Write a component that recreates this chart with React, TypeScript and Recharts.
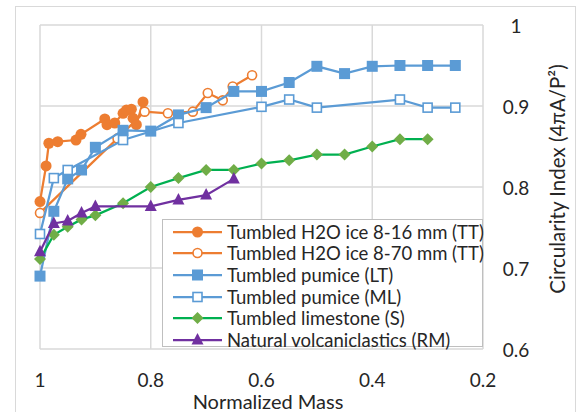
import React from "react";
import { ScatterChart, Scatter, XAxis, YAxis, CartesianGrid } from "recharts";

// normalized mass (x) vs circularity index (y)
const X_TICKS = [1, 0.8, 0.6, 0.4, 0.2];
const Y_TICKS = [0.6, 0.7, 0.8, 0.9, 1];

const ice816: [number, number][] = [
  [1.0, 0.782], [0.989, 0.826], [0.984, 0.854], [0.968, 0.856], [0.935, 0.858],
  [0.926, 0.865], [0.883, 0.884], [0.879, 0.877], [0.865, 0.879], [0.85, 0.891],
  [0.844, 0.895], [0.835, 0.896], [0.832, 0.885], [0.826, 0.877], [0.814, 0.905],
];
const ice870: [number, number][] = [
  [1.0, 0.768], [0.86, 0.86], [0.811, 0.893], [0.769, 0.891], [0.724, 0.893],
  [0.697, 0.916], [0.67, 0.907], [0.652, 0.924], [0.617, 0.938],
];
const pumiceLT: [number, number][] = [
  [1.0, 0.69], [0.975, 0.77], [0.95, 0.81], [0.925, 0.821], [0.9, 0.849],
  [0.85, 0.87], [0.8, 0.869], [0.75, 0.889], [0.7, 0.898], [0.65, 0.918],
  [0.6, 0.918], [0.55, 0.929], [0.5, 0.949], [0.45, 0.94], [0.4, 0.949],
  [0.35, 0.95], [0.3, 0.95], [0.25, 0.95],
];
const pumiceML: [number, number][] = [
  [1.0, 0.742], [0.975, 0.811], [0.95, 0.821], [0.85, 0.858], [0.75, 0.879],
  [0.6, 0.899], [0.55, 0.908], [0.5, 0.898], [0.35, 0.908], [0.3, 0.898], [0.25, 0.898],
];
const limestone: [number, number][] = [
  [1.0, 0.711], [0.975, 0.741], [0.95, 0.751], [0.925, 0.76], [0.9, 0.765],
  [0.85, 0.78], [0.8, 0.8], [0.75, 0.811], [0.7, 0.821], [0.65, 0.821],
  [0.6, 0.829], [0.55, 0.833], [0.5, 0.84], [0.45, 0.84], [0.4, 0.85],
  [0.35, 0.859], [0.3, 0.859],
];
const volcanic: [number, number][] = [
  [1.0, 0.72], [0.975, 0.755], [0.95, 0.758], [0.925, 0.768], [0.9, 0.776],
  [0.8, 0.776], [0.75, 0.784], [0.7, 0.79], [0.65, 0.81],
];

const ORANGE = "#ED7D31";
const BLUE = "#5B9BD5";
const GREEN_LINE = "#00B050";
const GREEN = "#70AD47";
const PURPLE = "#7030A0";
const FONT = "Lato, 'Noto Sans', sans-serif";
const TEXT = "#262626";

type Kind = "dot" | "ring" | "square" | "box" | "diamond" | "triangle";

const series: { name: string; data: [number, number][]; kind: Kind; color: string; line: string }[] = [
  { name: "Tumbled H2O ice 8-16 mm (TT)", data: ice816, kind: "dot", color: ORANGE, line: ORANGE },
  { name: "Tumbled H2O ice 8-70 mm (TT)", data: ice870, kind: "ring", color: ORANGE, line: ORANGE },
  { name: "Tumbled pumice (LT)", data: pumiceLT, kind: "square", color: BLUE, line: BLUE },
  { name: "Tumbled pumice (ML)", data: pumiceML, kind: "box", color: BLUE, line: BLUE },
  { name: "Tumbled limestone (S)", data: limestone, kind: "diamond", color: GREEN, line: GREEN_LINE },
  { name: "Natural volcaniclastics (RM)", data: volcanic, kind: "triangle", color: PURPLE, line: PURPLE },
];

const drawMarker = (kind: Kind, color: string, cx: number, cy: number) => {
  switch (kind) {
    case "dot":
      return <circle cx={cx} cy={cy} r={5.5} fill={color} />;
    case "ring":
      return <circle cx={cx} cy={cy} r={4.5} fill="#fff" stroke={color} strokeWidth={1.6} />;
    case "square":
      return <rect x={cx - 5.5} y={cy - 5.5} width={11} height={11} fill={color} />;
    case "box":
      return <rect x={cx - 4.5} y={cy - 4.5} width={9} height={9} fill="#fff" stroke={color} strokeWidth={1.6} />;
    case "diamond":
      return <polygon points={`${cx},${cy - 6} ${cx + 6},${cy} ${cx},${cy + 6} ${cx - 6},${cy}`} fill={color} />;
    default:
      return <polygon points={`${cx},${cy - 7} ${cx + 6},${cy + 4.5} ${cx - 6},${cy + 4.5}`} fill={color} />;
  }
};

const XTick = (props: any) => (
  <text x={props.x} y={379} textAnchor="middle" dominantBaseline="central" fontSize={19} fill={TEXT} fontFamily={FONT}>
    {String(props.payload.value)}
  </text>
);

const YTick = (props: any) => (
  <text x={516} y={props.y} textAnchor="middle" dominantBaseline="central" fontSize={19} fill={TEXT} fontFamily={FONT}>
    {String(props.payload.value)}
  </text>
);

const App = () => {
  return (
    <div style={{ position: "absolute", left: 0, top: 0, width: 578, height: 412, background: "#fff", overflow: "hidden", fontFamily: FONT }}>
      <div style={{ position: "absolute", left: 15, top: 6, width: 559, height: 420, border: "1.5px solid #d9d9d9" }} />
      <div style={{ position: "absolute", left: 0, top: 0 }}>
        <ScatterChart width={578} height={412} margin={{ top: 25, right: 35, bottom: 23, left: 40 }}>
          <CartesianGrid stroke="#d9d9d9" strokeWidth={1.5} />
          <XAxis
            type="number"
            dataKey="x"
            domain={[0.2, 1]}
            ticks={X_TICKS}
            reversed
            height={40}
            axisLine={false}
            tickLine={false}
            interval={0}
            tick={<XTick />}
          />
          <YAxis
            type="number"
            dataKey="y"
            orientation="right"
            domain={[0.6, 1]}
            ticks={Y_TICKS}
            width={60}
            axisLine={false}
            tickLine={false}
            interval={0}
            tick={<YTick />}
          />
          {series.map((s) => (
            <Scatter
              key={s.name}
              name={s.name}
              data={s.data.map(([x, y]) => ({ x, y }))}
              fill={s.color}
              line={{ stroke: s.line, strokeWidth: 2.25 }}
              lineType="joint"
              shape={(p: any) => drawMarker(s.kind, s.color, p.cx, p.cy)}
              isAnimationActive={false}
            />
          ))}
        </ScatterChart>
      </div>

      {/* legend box */}
      <div style={{ position: "absolute", left: 162, top: 219, width: 321, height: 128, background: "#fff", border: "1px solid #bfbfbf", boxSizing: "border-box", paddingTop: 1 }}>
        {series.map((s) => (
          <div key={s.name} style={{ display: "flex", alignItems: "center", height: 21.6 }}>
            <svg width={64} height={20} style={{ flex: "none" }}>
              <line x1={10} y1={10} x2={59} y2={10} stroke={s.line} strokeWidth={2.25} />
              {drawMarker(s.kind, s.color, 34.5, 10)}
            </svg>
            <span style={{ fontSize: 18.5, color: TEXT, whiteSpace: "nowrap", lineHeight: "20px" }}>{s.name}</span>
          </div>
        ))}
      </div>

      <div style={{ position: "absolute", left: 168, width: 200, top: 390, textAlign: "center", fontSize: 20, color: TEXT, lineHeight: "22px" }}>
        Normalized Mass
      </div>
      <div
        style={{
          position: "absolute",
          left: 557,
          top: 179,
          transform: "translate(-50%, -50%) rotate(-90deg)",
          whiteSpace: "nowrap",
          fontSize: 20.5,
          color: TEXT,
          lineHeight: "24px",
        }}
      >
        Circularity Index (4πA/P²)
      </div>
    </div>
  );
};

export default App;
